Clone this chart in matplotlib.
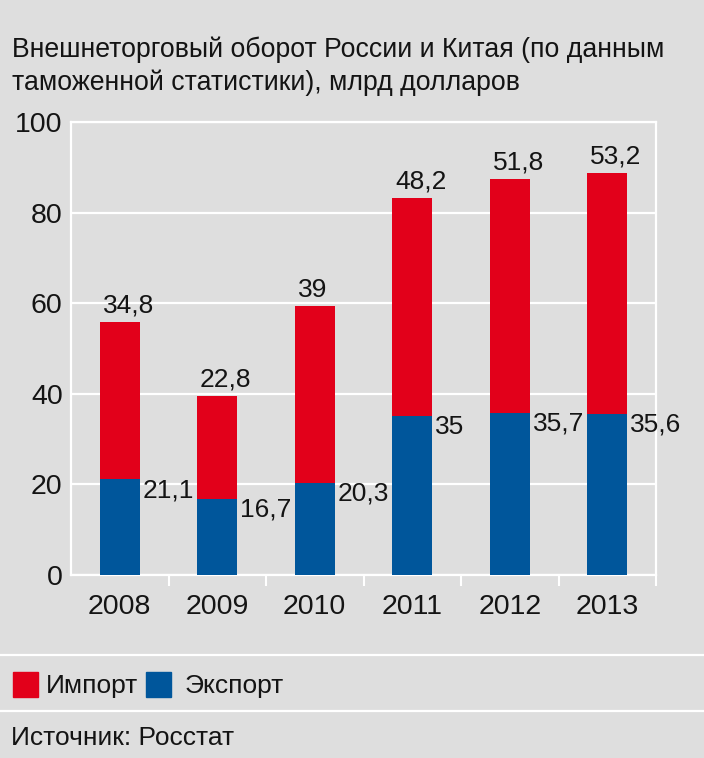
import matplotlib.pyplot as plt
from matplotlib.patches import Rectangle
from matplotlib.lines import Line2D
import numpy as np

# data, bln USD
years = ["2008", "2009", "2010", "2011", "2012", "2013"]
export_vals = [21.1, 16.7, 20.3, 35.0, 35.7, 35.6]
import_vals = [34.8, 22.8, 39.0, 48.2, 51.8, 53.2]

def fmt(v):
    # russian decimal comma, drop ",0"
    if v == int(v):
        return str(int(v))
    return ("%.1f" % v).replace(".", ",")

plt.rcParams['font.family'] = ["Liberation Sans", "DejaVu Sans"]

bg = "#dedede"
red = "#e2001a"
blue = "#00569b"
ink = "#141414"

W, H = 704, 758
fig = plt.figure(figsize=(W / 100, H / 100), dpi=100, facecolor=bg)

def px(x, y):
    # pixel position -> figure fraction
    return x / W, 1 - y / H

l, b = px(71, 575)
r, t = px(656, 122)
ax = fig.add_axes([l, b, r - l, t - b])
ax.set_facecolor(bg)

x = np.arange(len(years))
bw = 0.41
ax.bar(x, export_vals, bw, color=blue, zorder=3)
ax.bar(x, import_vals, bw, bottom=export_vals, color=red, zorder=3)

for i in range(len(years)):
    ax.annotate(fmt(export_vals[i]), (x[i] + bw / 2, export_vals[i]),
                xytext=(2, 1), textcoords="offset points",
                ha="left", va="top", fontsize=19, color=ink)
    ax.annotate(fmt(import_vals[i]), (x[i] - bw / 2, export_vals[i] + import_vals[i]),
                xytext=(2, 3), textcoords="offset points",
                ha="left", va="bottom", fontsize=19, color=ink)

ax.set_xlim(-0.5, len(years) - 0.5)
ax.set_ylim(0, 100)
ax.set_yticks(np.arange(0, 101, 20))
ax.set_xticks(x)
ax.set_xticklabels(years)
ax.set_xticks(np.arange(0.5, len(years), 1.0), minor=True)
ax.tick_params(axis="y", length=0, pad=6, labelsize=20.5, labelcolor=ink)
ax.tick_params(axis="x", which="major", length=0, pad=14, labelsize=20.5, labelcolor=ink)
ax.tick_params(axis="x", which="minor", length=8, width=1.5, color="white", direction="out")
ax.grid(axis="y", color="white", linewidth=1.6, zorder=0)
for s in ax.spines.values():
    s.set_color("white")
    s.set_linewidth(1.6)

# title
fig.text(*px(12, 57), "Внешнеторговый оборот России и Китая (по данным",
         fontsize=19.2, color=ink, va="baseline", ha="left")
fig.text(*px(12, 90), "таможенной статистики), млрд долларов",
         fontsize=19.2, color=ink, va="baseline", ha="left")

# separators
for yy in [655, 711]:
    fig.add_artist(Line2D([0, 1], [1 - yy / H] * 2, transform=fig.transFigure,
                          color="white", linewidth=1.6))

# legend
lx, ly = px(13, 697)
fig.add_artist(Rectangle((lx, ly), 25 / W, 25 / H, transform=fig.transFigure, color=red))
fig.text(*px(46, 686), "Импорт", fontsize=19, color=ink, va="center", ha="left")
lx, ly = px(146, 697)
fig.add_artist(Rectangle((lx, ly), 25 / W, 25 / H, transform=fig.transFigure, color=blue))
fig.text(*px(185, 686), "Экспорт", fontsize=19, color=ink, va="center", ha="left")

fig.text(*px(11, 738), "Источник: Росстат", fontsize=19, color=ink, va="center", ha="left")

fig.savefig("out.png", dpi=100, facecolor=bg)
